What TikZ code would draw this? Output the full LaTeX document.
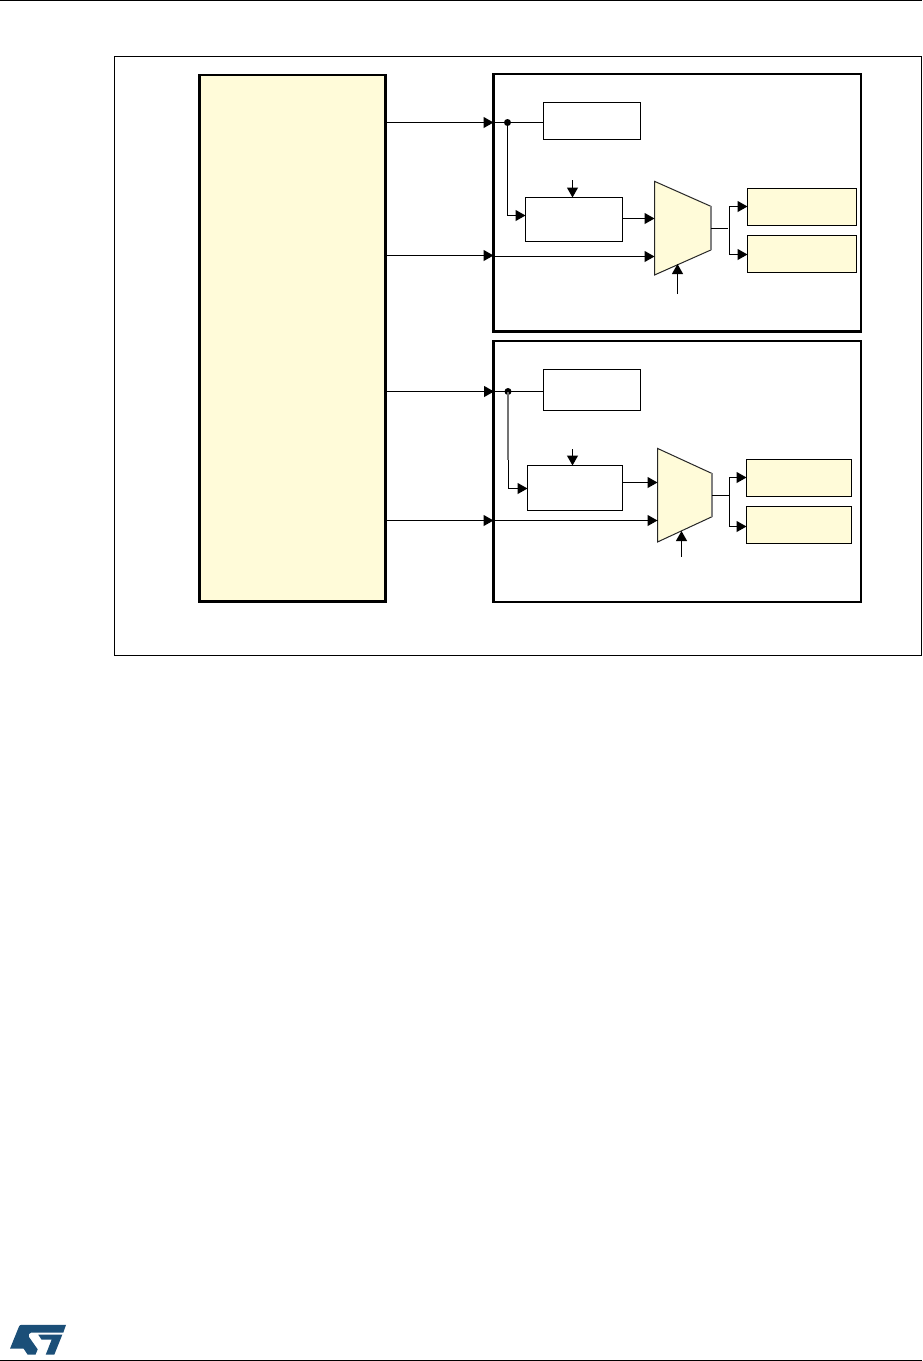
\documentclass[tikz,border=0pt]{standalone}
\usetikzlibrary{arrows.meta}
\definecolor{paleyellow}{HTML}{FFFBD9}
\definecolor{stblue}{HTML}{1B4F78}
\tikzset{
  x=1pt,y=-1pt,
  region/.style={draw=black,line width=2.2pt,inner sep=0pt,outer sep=0pt},
  frameline/.style={draw=black,line width=1.2pt},
  plainbox/.style={draw=black,line width=1.1pt,fill=white,inner sep=0pt,outer sep=0pt},
  outbox/.style={draw=black,line width=1.1pt,fill=paleyellow,inner sep=0pt,outer sep=0pt},
  muxshape/.style={draw=black!85,line width=1pt,fill=paleyellow},
  muxedge/.style={draw=black!50,line width=1.4pt},
  wire/.style={draw=black,line width=1.1pt},
  arrowwire/.style={wire,-{Triangle[length=10pt,width=11pt]}},
  junction/.style={circle,fill=black,inner sep=0pt,minimum size=7pt},
}
\newcommand{\boxat}[7]{\node[#1,minimum width=#5pt-#3pt,minimum height=#6pt-#4pt] (#2) at ({(#3+#5)/2},{(#4+#6)/2}) {#7};}
\begin{document}
\begin{tikzpicture}
\useasboundingbox (0,0) rectangle (922,1361);
\fill[white] (0,0) rectangle (922,1361);
% page rules
\coordinate (ruleTL) at (0,0.6); \coordinate (ruleTR) at (922,0.6);
\coordinate (ruleBL) at (0,1360.2); \coordinate (ruleBR) at (922,1360.2);
\draw[frameline] (ruleTL) -- (ruleTR);
\draw[frameline] (ruleBL) -- (ruleBR);
% outer frame
\boxat{frameline}{frame}{114.5}{56.5}{921.3}{655.3}{}
% left yellow block
\boxat{region,fill=paleyellow}{src}{199.5}{75}{385.5}{601.5}{}
% channel regions
\boxat{region}{chA}{493.5}{74}{861}{331.5}{}
\boxat{region}{chB}{493.5}{341}{861}{602}{}
% channel A
\boxat{plainbox}{aTop}{543.5}{102.5}{640.5}{139.5}{}
\boxat{plainbox}{aMid}{525.5}{197.5}{622.5}{241.5}{}
\boxat{outbox}{aOutOne}{747.5}{188.5}{856.5}{225.5}{}
\boxat{outbox}{aOutTwo}{747.5}{235.5}{856.5}{272.5}{}
\coordinate (aM1) at (654.5,181.3); \coordinate (aM2) at (710.8,206.3);
\coordinate (aM3) at (710.8,250); \coordinate (aM4) at (654.5,275);
\draw[muxshape] (aM1) -- (aM2) -- (aM3) -- (aM4) -- cycle;
\draw[muxedge] (aM2) -- (aM3);
\node[junction] (aDot) at (507.5,122.5) {};
\coordinate (aIn1) at (src.east |- aDot);
\draw[arrowwire] (aIn1) -- (chA.west |- aDot);
\draw[wire] (chA.west |- aDot) -- (aTop.west |- aDot);
\coordinate (aBend) at (507.5,215.5);
\draw[arrowwire] (aDot.center) -- (aBend) -- (aMid.west |- aBend);
\coordinate (aCtl) at (572.5,180);
\draw[arrowwire] (aCtl) -- (aMid.north -| aCtl);
\coordinate (aMidOut) at (622.5,218.5);
\draw[arrowwire] (aMidOut) -- (aM1 |- aMidOut);
\coordinate (aIn2) at (385.5,255.5);
\draw[arrowwire] (aIn2) -- (chA.west |- aIn2);
\coordinate (aIn3) at (493.5,256.5);
\draw[arrowwire] (aIn3) -- (aM1 |- aIn3);
\coordinate (aSel) at (677.5,294);
\coordinate (aSelTip) at (677.5,264);
\draw[arrowwire] (aSel) -- (aSelTip);
\coordinate (aOut) at (710.8,228.5);
\coordinate (aFork) at (728,228.5);
\draw[wire] (aOut) -- (aFork);
\coordinate (aBranch) at (729.5,228.5);
\coordinate (aOneY) at (747.5,206.5);
\coordinate (aTwoY) at (747.5,254.5);
\draw[arrowwire] (aBranch) -- (aBranch |- aOneY) -- (aOneY);
\draw[arrowwire] (aBranch) -- (aBranch |- aTwoY) -- (aTwoY);
% channel B
\boxat{plainbox}{bTop}{543.5}{369.5}{640.5}{410.5}{}
\boxat{plainbox}{bMid}{527.5}{465.5}{622.5}{510.5}{}
\boxat{outbox}{bOutOne}{746.5}{459.5}{851.5}{496.5}{}
\boxat{outbox}{bOutTwo}{746.5}{506.5}{851.5}{543.5}{}
\coordinate (bM1) at (657.5,448.4); \coordinate (bM2) at (711.8,473.4);
\coordinate (bM3) at (711.8,516.8); \coordinate (bM4) at (657.5,542);
\draw[muxshape] (bM1) -- (bM2) -- (bM3) -- (bM4) -- cycle;
\draw[muxedge] (bM2) -- (bM3);
\node[junction] (bDot) at (508,391.5) {};
\coordinate (bIn1) at (387,391.5);
\coordinate (bInTip) at (494,391.5);
\draw[arrowwire] (bIn1) -- (bInTip);
\draw[wire] (bInTip) -- (bTop.west |- bDot);
\coordinate (bGray) at (508,460);
\draw[draw=black!55,line width=1.3pt] (bDot.center) -- (bGray);
\coordinate (bGrayEnd) at (508.5,460);
\coordinate (bBend) at (508.5,488.5);
\draw[arrowwire] (bGrayEnd) -- (bBend) -- (bMid.west |- bBend);
\coordinate (bCtl) at (572.5,449);
\draw[arrowwire] (bCtl) -- (bMid.north -| bCtl);
\coordinate (bMidOut) at (622.5,482.5);
\draw[arrowwire] (bMidOut) -- (bM1 |- bMidOut);
\coordinate (bIn2) at (385.5,520.5);
\draw[arrowwire] (bIn2) -- (chB.west |- bIn2);
\draw[wire] (chB.west |- bIn2) -- (bM1 |- bIn2);
\draw[arrowwire] (bM1 |- bIn2) ++(-20,0) -- (bM1 |- bIn2);
\coordinate (bSel) at (681.5,556.7);
\coordinate (bSelTip) at (681.5,531);
\draw[arrowwire] (bSel) -- (bSelTip);
\coordinate (bOut) at (711.8,495.5);
\coordinate (bBranch) at (729.5,495.5);
\draw[wire] (bOut) -- (bBranch);
\coordinate (bOneY) at (746.5,477.5);
\coordinate (bTwoY) at (746.5,526.5);
\draw[arrowwire] (bBranch) -- (bBranch |- bOneY) -- (bOneY);
\draw[arrowwire] (bBranch) -- (bBranch |- bTwoY) -- (bTwoY);
% logo
\fill[stblue] (19,1326.5) .. controls (19.5,1325.4) and (20.3,1324.8) .. (22,1324.8) -- (66,1324.8) -- (63.3,1332.7) -- (31,1332.7) .. controls (29,1332.7) and (28,1335) .. (29,1337) -- (37.7,1349.3) -- (35.5,1354.7) -- (27.7,1354.7) -- (23.7,1348.7) -- (10,1348.7) -- cycle;
\fill[stblue] (38.3,1334.7) -- (62.3,1334.7) -- (54.3,1354.7) -- (45.7,1354.7) -- (51.7,1339.5) -- (41.5,1339.5) -- cycle;
\end{tikzpicture}
\end{document}
